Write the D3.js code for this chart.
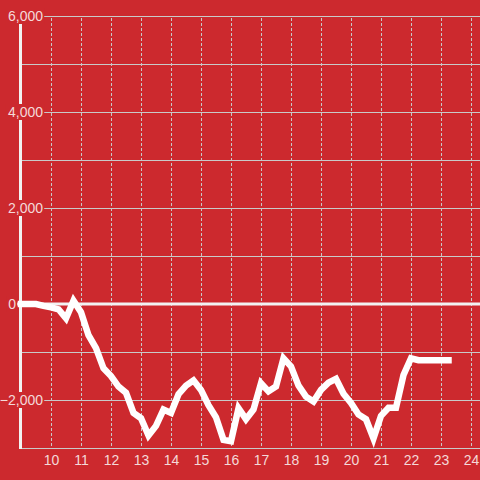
<!DOCTYPE html>
<html><head><meta charset="utf-8">
<script src="https://cdn.jsdelivr.net/npm/d3@7"></script>
<style>body{margin:0;background:#cc292e;} svg{display:block}</style>
</head><body><svg id="c" width="480" height="480"></svg>
<script>
const times = [9,9.25,9.5,9.75,10,10.25,10.5,10.75,11,11.25,11.5,11.75,12,12.25,12.5,12.75,13,13.25,13.5,13.75,14,14.25,14.5,14.75,15,15.25,15.5,15.75,16,16.25,16.5,16.75,17,17.25,17.5,17.75,18,18.25,18.5,18.75,19,19.25,19.5,19.75,20,20.25,20.5,20.75,21,21.25,21.5,21.75,22,22.25,22.5,22.75,23,23.25];
const values = [0,0,0,-40,-70,-110,-300,70,-170,-650,-920,-1340,-1500,-1720,-1850,-2270,-2380,-2740,-2540,-2200,-2270,-1880,-1700,-1590,-1790,-2110,-2360,-2830,-2860,-2170,-2400,-2200,-1650,-1820,-1720,-1130,-1300,-1700,-1930,-2030,-1790,-1640,-1560,-1870,-2060,-2300,-2400,-2800,-2330,-2160,-2160,-1480,-1130,-1170,-1170,-1170,-1170,-1170];
const yTicks = [-2000,0,2000,4000,6000];
const yGrid = [-2000,-1000,1000,2000,3000,4000,5000,6000];
const xTicks = [10,11,12,13,14,15,16,17,18,19,20,21,22,23,24];

const BG = "#cc292e", GRID = "#c9c9c9", TXT = "#f4d9d9", FONT = "'Liberation Sans', Arial, sans-serif";
const W = 480, H = 480;
const x = d3.scaleLinear().domain([10,24]).range([51,471]);
const y = d3.scaleLinear().domain([-3000,6000]).range([448,16]);
const svg = d3.select("#c");
svg.append("rect").attr("width",W).attr("height",H).attr("fill",BG);

// horizontal grid
svg.append("g").attr("transform","translate(20,0)")
  .call(d3.axisRight(y).tickValues(yGrid).tickSize(W-20).tickFormat(""))
  .call(g=>g.select(".domain").remove())
  .selectAll("line").attr("stroke",GRID).attr("stroke-width",1);

// vertical dotted grid
svg.append("g").attr("transform","translate(0,446)")
  .call(d3.axisBottom(x).tickValues(xTicks).tickSize(-430).tickFormat(""))
  .call(g=>g.select(".domain").remove())
  .selectAll("line").attr("stroke",GRID).attr("stroke-width",1).attr("stroke-dasharray","3,2");

// bottom line
svg.append("line").attr("x1",20).attr("x2",W).attr("y1",y(-3000)+0.5).attr("y2",y(-3000)+0.5)
  .attr("stroke",GRID).attr("stroke-width",1);

// y axis line
svg.append("line").attr("x1",20.5).attr("x2",20.5).attr("y1",y(6000)).attr("y2",y(-3000)+1)
  .attr("stroke","#f2f2f2").attr("stroke-width",3);

// zero line
svg.append("line").attr("x1",17).attr("x2",W).attr("y1",y(0)).attr("y2",y(0))
  .attr("stroke","#f2f2f2").attr("stroke-width",3);

// y labels with background
const fmt = d3.format(",");
const yl = svg.append("g").attr("font-family",FONT).attr("font-size",14);
yTicks.forEach(v=>{
  const g = yl.append("g");
  const t = g.append("text").attr("x", v===0 ? 16 : 43).attr("y", y(v)).attr("dy","0.35em")
    .attr("text-anchor","end").attr("fill",TXT).text(fmt(v));
  const b = t.node().getBBox();
  g.insert("rect","text").attr("x",b.x-2).attr("y",y(v)-8).attr("width",b.width+3).attr("height",16).attr("fill",BG);
});

// x labels
svg.append("g").attr("transform","translate(0,448)")
  .call(d3.axisBottom(x).tickValues(xTicks).tickSize(0).tickPadding(7).tickFormat(d3.format("d")))
  .call(g=>g.select(".domain").remove())
  .call(g=>g.selectAll("text").attr("fill",TXT).attr("font-size",14).attr("font-family",FONT));

// data line
const line = d3.line().x((d,i)=>x(times[i])).y(d=>y(d));
svg.append("path").datum(values).attr("d",line).attr("fill","none")
  .attr("stroke","#ffffff").attr("stroke-width",6.5).attr("stroke-linecap","square").attr("stroke-linejoin","miter");
</script></body></html>
